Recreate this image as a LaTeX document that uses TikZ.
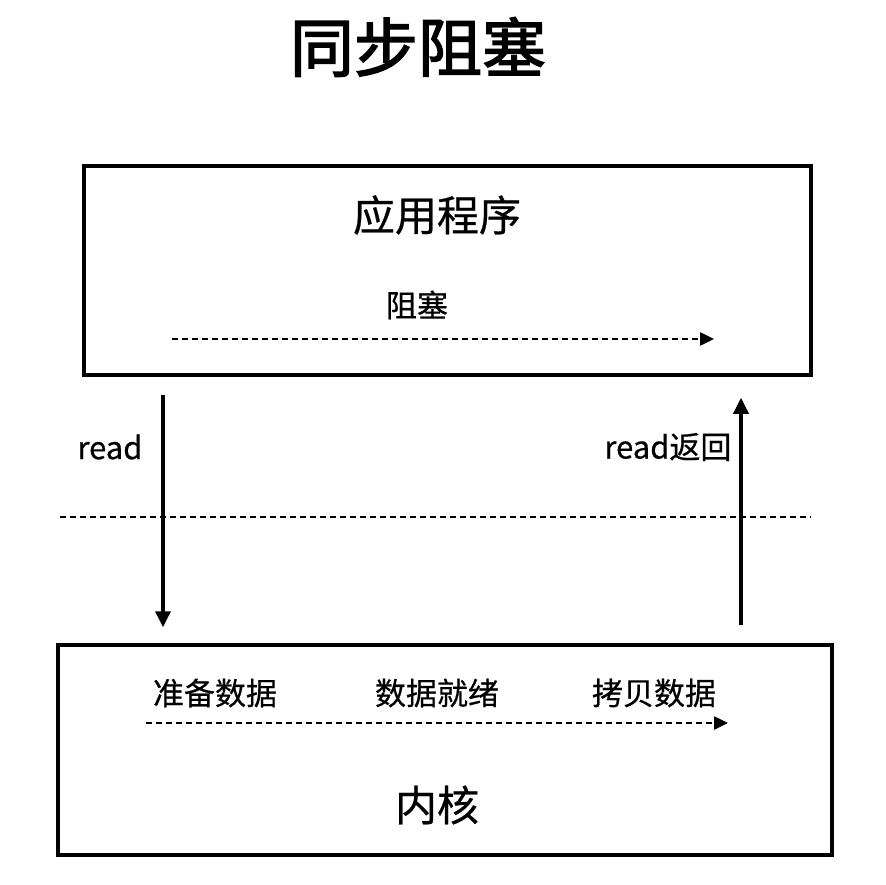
\documentclass[tikz,border=0pt]{standalone}
\usepackage{fontspec}
\setmainfont{Noto Sans CJK SC}[FakeBold=0.6]
\newfontfamily\titlefont{Noto Sans CJK SC}[FakeBold=2.2]
\usetikzlibrary{arrows.meta,positioning}

\begin{document}
\begin{tikzpicture}[
      x=1pt, y=-1pt,
      box/.style={draw,line width=3.5pt,inner sep=0pt},
      flow/.style={-{Triangle[length=16pt,width=15pt]},line width=3.5pt},
      stage/.style={-{Triangle[length=14pt,width=13pt]},line width=2.5pt,dash pattern=on 6pt off 4pt},
      big/.style={font=\fontsize{42}{42}\selectfont},
      lab/.style={font=\fontsize{31}{31}\selectfont},
    ]
    \useasboundingbox (0,0) rectangle (886,885);
    \node[font=\fontsize{64}{64}\titlefont] (title) at (418,47) {同步阻塞};

    % application side
    \node[box,minimum width=727pt,minimum height=209pt] (app) at (447.5,270.5) {};
    \node[big] (appname) at (437,215) {应用程序};
    \node[lab] (block) at (417,305) {阻塞};
    \coordinate (blk0) at (172,339);
    \coordinate (blk1) at (714,339);
    \draw[stage] (blk0) -- (blk1);

    % kernel side
    \node[box,minimum width=774pt,minimum height=210pt] (kern) at (445,750) {};
    \node[lab] (prep) at (215,693) {准备数据};
    \node[lab] (ready) at (437,693) {数据就绪};
    \node[lab] (copy) at (654,693) {拷贝数据};
    \node[big] (kername) at (437,805) {内核};
    \coordinate (cp0) at (146,723);
    \coordinate (cp1) at (728,723);
    \draw[stage] (cp0) -- (cp1);

    % user / kernel boundary
    \coordinate (bd0) at (60,517);
    \coordinate (bd1) at (811,517);
    \draw[line width=2.5pt,dash pattern=on 6pt off 4pt] (bd0) -- (bd1);

    % calls
    \draw[flow,shorten <=18pt,shorten >=16pt] (app.south -| 163,0) -- (kern.north -| 163,0);
    \node[lab,anchor=east] (rd) at (146,447) {read};
    \draw[flow,shorten <=18pt,shorten >=21pt] (kern.north -| 741,0) -- (app.south -| 741,0);
    \node[lab,anchor=east] (rdret) at (735,447) {read返回};
  \end{tikzpicture}
\end{document}
